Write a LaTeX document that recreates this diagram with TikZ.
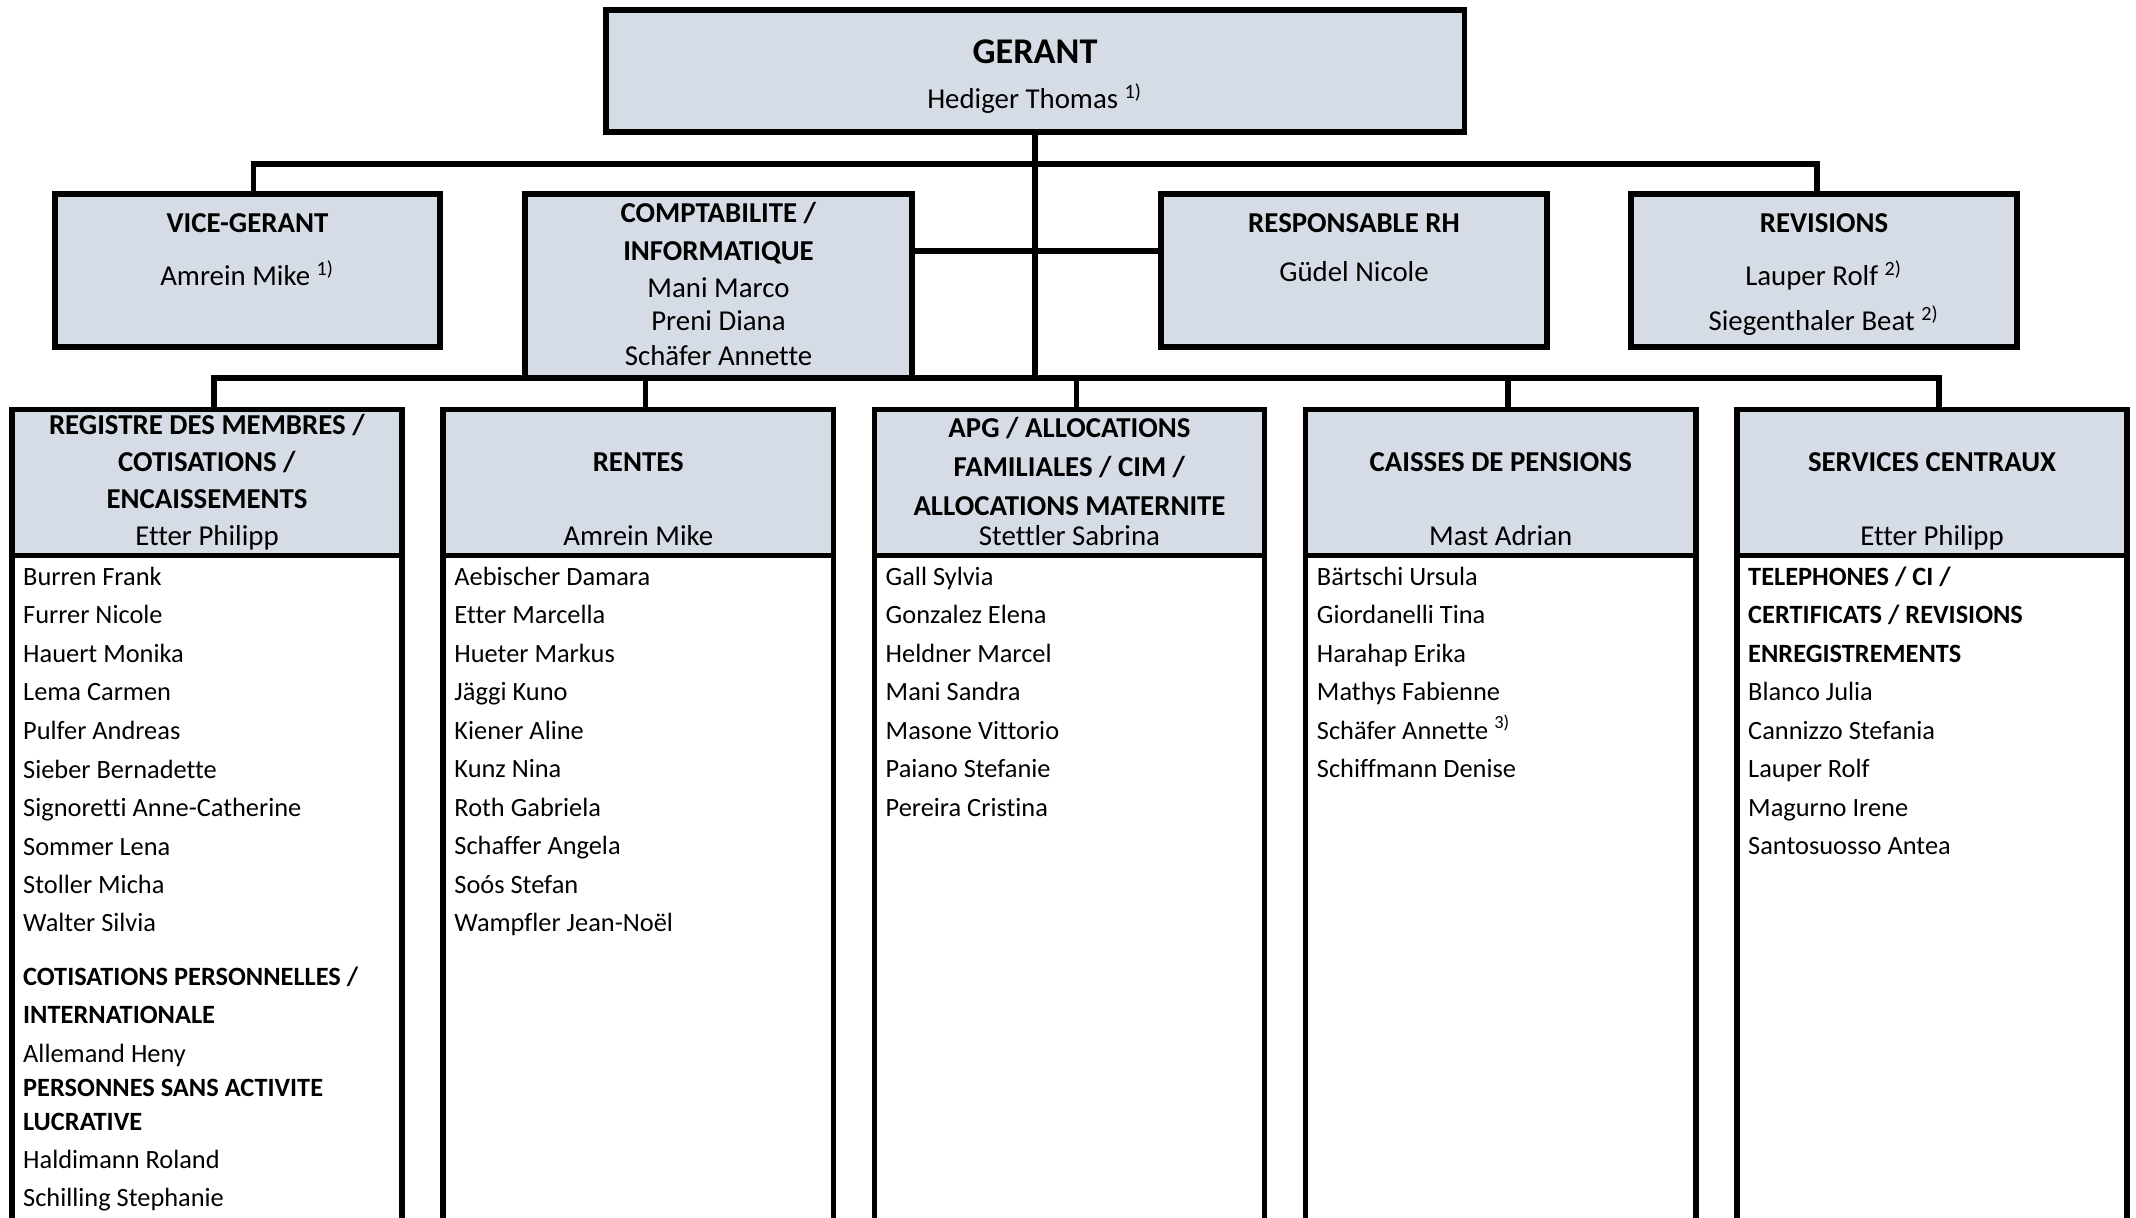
\documentclass[tikz,border=0pt]{standalone}
\usepackage{fontspec}
\setmainfont{Carlito}[Ligatures=CommonOff]
\usetikzlibrary{calc}

\definecolor{headfill}{RGB}{214,220,229}
\newcommand\bodysize{\fontsize{7.5pt}{9pt}\selectfont}
\newcommand\boxsize{\fontsize{8.2pt}{10pt}\selectfont}
\newcommand\topsize{\fontsize{10.3pt}{12pt}\selectfont}

\tikzset{
  orgbox/.style={draw, line width=0.055cm, fill=headfill, inner sep=0pt},
  colhead/.style={orgbox, minimum width=3.9cm, minimum height=1.46cm},
  colbody/.style={draw, line width=0.055cm, fill=white, inner sep=0pt, minimum width=3.9cm, minimum height=6.895cm},
  link/.style={line width=0.055cm},
  lbl/.style={inner sep=0pt, text height=0.644em, text depth=0pt},
  boxtxt/.style={lbl, font=\boxsize},
  bodytxt/.style={lbl, font=\bodysize, anchor=west}
}

\begin{document}
\begin{tikzpicture}[x=0.01cm, y=-0.01cm]
  \useasboundingbox (0,0) rectangle (2136,1217);
  \fill[white] (0,0) rectangle (2136,1217);
  % direction
  \node[orgbox, minimum width=8.58cm, minimum height=1.22cm] (gerant) at (1035,71) {};
  \node[orgbox, minimum width=3.85cm, minimum height=1.53cm] (vice) at (247.5,270.5) {};
  \node[orgbox, minimum width=3.87cm, minimum height=1.84cm] (compta) at (718.5,286) {};
  \node[orgbox, minimum width=3.86cm, minimum height=1.53cm] (rh) at (1354,270.5) {};
  \node[orgbox, minimum width=3.86cm, minimum height=1.53cm] (rev) at (1824,270.5) {};
  % sections
  \def\colstep{431.25}
  \foreach \i in {1,...,5}{
    \pgfmathsetmacro\cx{207+\colstep*(\i-1)}
    \node[colbody] (body\i) at (\cx,900.25) {};
    \node[colhead] (col\i) at (\cx,482.5) {};
    \coordinate (drop\i) at ($(col\i.north)+(7,0)$);
  }
  % connectors
  \coordinate (topbus) at (0,164);
  \coordinate (midbus) at (0,251);
  \coordinate (lowbus) at (0,378);
  \coordinate (vicedrop) at ($(vice.north)+(6,0)$);
  \coordinate (revdrop) at ($(rev.north)+(-7,0)$);
  \draw[link] (vicedrop) -- (vicedrop |- topbus) -- (revdrop |- topbus) -- (revdrop);
  \draw[link] (gerant.south) -- (gerant.south |- lowbus);
  \draw[link] (compta.east |- midbus) -- (rh.west |- midbus);
  \draw[link] (drop1) -- (drop1 |- lowbus) -- (drop5 |- lowbus) -- (drop5);
  \foreach \i in {2,3,4}
    \draw[link] (drop\i) -- (drop\i |- lowbus);
  % texts of the upper boxes
  \node[lbl, font=\topsize\bfseries] (gerantT) at (1035,52) {GERANT};
  \node[boxtxt] (gerantN) at (1035,97.5) {Hediger Thomas \textsuperscript{1)}};
  \node[boxtxt, font=\boxsize\bfseries] (viceT) at (247.5,221) {VICE-GERANT};
  \node[boxtxt] (viceN) at (247.5,274.5) {Amrein Mike \textsuperscript{1)}};
  \foreach \y/\t [count=\k] in {211.5/\textbf{COMPTABILITE /}, 249.5/\textbf{INFORMATIQUE},
      286.5/Mani Marco, 319.5/Preni Diana, 354.5/Schäfer Annette}
    \node[boxtxt] (comptaT\k) at (718.5,\y) {\t};
  \node[boxtxt, font=\boxsize\bfseries] (rhT) at (1354,221) {RESPONSABLE RH};
  \node[boxtxt] (rhN) at (1354,270.5) {Güdel Nicole};
  \node[boxtxt, font=\boxsize\bfseries] (revT) at (1824,221) {REVISIONS};
  \node[boxtxt] (revN1) at (1824,274.5) {Lauper Rolf \textsuperscript{2)}};
  \node[boxtxt] (revN2) at (1824,319.5) {Siegenthaler Beat \textsuperscript{2)}};
  % section headers
  \foreach \y/\t [count=\k] in {423.5/\textbf{REGISTRE DES MEMBRES /}, 460.5/\textbf{COTISATIONS /},
      497.5/\textbf{ENCAISSEMENTS}, 534.5/Etter Philipp}
    \node[boxtxt] (regH\k) at (207,\y) {\t};
  \node[boxtxt] (renH1) at (638.25,460.5) {\textbf{RENTES}};
  \node[boxtxt] (renH2) at (638.25,534.5) {Amrein Mike};
  \foreach \y/\t [count=\k] in {426.5/\textbf{APG / ALLOCATIONS}, 465.5/\textbf{FAMILIALES / CIM /},
      504.5/\textbf{ALLOCATIONS MATERNITE}, 534.5/Stettler Sabrina}
    \node[boxtxt] (apgH\k) at (1069.5,\y) {\t};
  \node[boxtxt] (cpH1) at (1500.75,460.5) {\textbf{CAISSES DE PENSIONS}};
  \node[boxtxt] (cpH2) at (1500.75,534.5) {Mast Adrian};
  \node[boxtxt] (scH1) at (1932,460.5) {\textbf{SERVICES CENTRAUX}};
  \node[boxtxt] (scH2) at (1932,534.5) {Etter Philipp};
  % staff lists
  \foreach \y/\t [count=\k] in {574/Burren Frank, 612/Furrer Nicole, 651/Hauert Monika,
      689/Lema Carmen, 728/Pulfer Andreas, 767/Sieber Bernadette, 805/Signoretti Anne-Catherine,
      844/Sommer Lena, 882/Stoller Micha, 920/Walter Silvia,
      974/\textbf{COTISATIONS PERSONNELLES /}, 1012/\textbf{INTERNATIONALE}, 1051/Allemand Heny,
      1085/\textbf{PERSONNES SANS ACTIVITE}, 1119/\textbf{LUCRATIVE},
      1157/Haldimann Roland, 1195/Schilling Stephanie}
    \node[bodytxt] (regN\k) at (22.5,\y) {\t};
  \foreach \t [count=\k] in {Aebischer Damara, Etter Marcella, Hueter Markus, Jäggi Kuno,
      Kiener Aline, Kunz Nina, Roth Gabriela, Schaffer Angela, Soós Stefan, Wampfler Jean-Noël}
    \node[bodytxt] (renN\k) at (453.75,{574+38.5*(\k-1)}) {\t};
  \foreach \t [count=\k] in {Gall Sylvia, Gonzalez Elena, Heldner Marcel, Mani Sandra,
      Masone Vittorio, Paiano Stefanie, Pereira Cristina}
    \node[bodytxt] (apgN\k) at (885,{574+38.5*(\k-1)}) {\t};
  \foreach \t [count=\k] in {Bärtschi Ursula, Giordanelli Tina, Harahap Erika, Mathys Fabienne,
      Schäfer Annette \textsuperscript{3)}, Schiffmann Denise}
    \node[bodytxt] (cpN\k) at (1316.25,{574+38.5*(\k-1)}) {\t};
  \foreach \t [count=\k] in {\textbf{TELEPHONES / CI /}, \textbf{CERTIFICATS / REVISIONS},
      \textbf{ENREGISTREMENTS}, Blanco Julia, Cannizzo Stefania, Lauper Rolf, Magurno Irene,
      Santosuosso Antea}
    \node[bodytxt] (scN\k) at (1747.5,{574+38.5*(\k-1)}) {\t};
\end{tikzpicture}
\end{document}
